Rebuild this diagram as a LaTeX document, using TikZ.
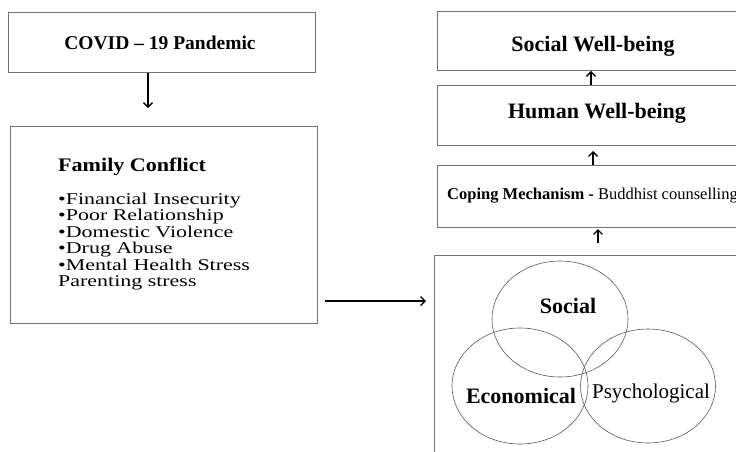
\documentclass[tikz,border=0pt]{standalone}
\usepackage{fontspec}
\usepackage{graphicx}
\setmainfont{Liberation Serif}
\usetikzlibrary{arrows.meta,shapes.geometric}
\tikzset{
  box/.style={draw=black!55, line width=0.9pt, anchor=north west, inner sep=0pt},
  arr/.style={-{Straight Barb[length=4.5pt,width=9pt,line width=1.3pt]}, line width=1.3pt, black},
  circ/.style={ellipse, draw=black!65, line width=0.6pt, inner sep=0pt},
  big/.style={font=\fontsize{22}{24}\selectfont\bfseries},
  itm/.style={font=\fontsize{16.5}{18}\selectfont, anchor=base west, inner sep=0pt},
}
\newcommand{\wide}[1]{\scalebox{1.33}[1]{#1}}
\begin{document}
\begin{tikzpicture}[x=1pt,y=-1pt]
\useasboundingbox (0,0) rectangle (736,451);
\clip (0,0) rectangle (736,451);
% left boxes
\node[box, minimum width=307pt, minimum height=60pt] (covid) at (8,12) {};
\node[big, font=\fontsize{19.5}{22}\selectfont\bfseries, anchor=base, inner sep=0pt] (covidt) at (160,49) {COVID -- 19 Pandemic};
\node[box, minimum width=307pt, minimum height=197pt] (fam) at (10,126) {};
\node[anchor=base west, inner sep=0pt, font=\fontsize{19.2}{22}\selectfont\bfseries] (famt) at (58,171) {\scalebox{1.15}[1]{Family Conflict}};
\node[itm] (fc1) at (58,204) {\wide{•Financial Insecurity}};
\node[itm] (fc2) at (58,220.5) {\wide{•Poor Relationship}};
\node[itm] (fc3) at (58,237) {\wide{•Domestic Violence}};
\node[itm] (fc4) at (58,253.5) {\wide{•Drug Abuse}};
\node[itm] (fc5) at (58,270) {\wide{•Mental Health Stress}};
\node[itm] (fc6) at (58,286.5) {\wide{Parenting stress}};
% right boxes
\node[box, minimum width=330pt, minimum height=59pt] (swb) at (437,11) {};
\node[big, anchor=base, inner sep=0pt] (swbt) at (593,51) {Social Well-being};
\node[box, minimum width=330pt, minimum height=60pt] (hwb) at (437,85) {};
\node[big, anchor=base, inner sep=0pt] (hwbt) at (597,118) {Human Well-being};
\node[box, minimum width=330pt, minimum height=62pt] (cop) at (437,165) {};
\node[anchor=base west, inner sep=0pt, font=\fontsize{16.5}{18}\selectfont] (copt) at (447,199) {\textbf{Coping Mechanism -} Buddhist counselling};
\node[box, minimum width=330pt, minimum height=220pt] (low) at (434,255) {};
% circles
\node[circ, minimum width=136pt, minimum height=116pt] (soc) at (560,319) {};
\node[circ, minimum width=136pt, minimum height=116pt] (eco) at (520,386) {};
\node[circ, minimum width=135pt, minimum height=114pt] (psy) at (648,386) {};
\node[big, anchor=base, inner sep=0pt] (soct) at (568,313) {Social};
\node[big, anchor=base, inner sep=0pt] (ecot) at (521,403) {Economical};
\node[anchor=base, inner sep=0pt, font=\fontsize{21}{24}\selectfont] (psyt) at (651,398) {Psychological};
% arrows
\coordinate (a1) at (148,108);
\draw[arr] (covid.south -| a1) -- (a1);
\coordinate (h1s) at (325,301);
\coordinate (h1e) at (426,301);
\draw[arr] (h1s) -- (h1e);
\draw[arr] (hwb.north -| 591,0) -- (swb.south -| 591,0);
\coordinate (a3) at (593,151);
\draw[arr] (cop.north -| a3) -- (a3);
\coordinate (a4s) at (598,243);
\coordinate (a4e) at (598,229);
\draw[arr] (a4s) -- (a4e);
\end{tikzpicture}
\end{document}
